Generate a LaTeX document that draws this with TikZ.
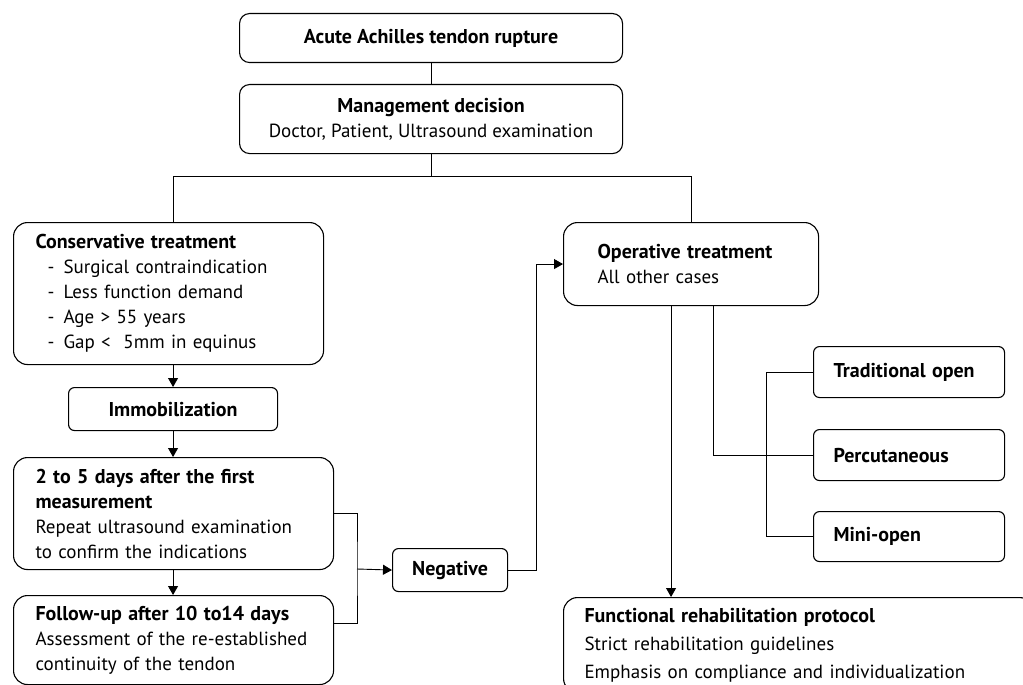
\documentclass[tikz,border=0pt]{standalone}
\usepackage{fontspec}
\setmainfont{PT Sans}
\usetikzlibrary{arrows.meta}
\newcommand{\dashitem}[1]{\makebox[28pt][l]{\hspace{12pt}-}#1}
\newcommand{\hd}[1]{{\fontsize{20}{25}\selectfont\bfseries #1}}
\begin{document}
\begin{tikzpicture}[x=1pt,y=-1pt]
        \tikzstyle{every node}+=[inner sep=0pt, font=\fontsize{19}{25}\selectfont]
        \tikzstyle{box}=[draw=black, line width=1.1pt, rounded corners=10pt, anchor=north west]
        \tikzstyle{sbox}=[box, rounded corners=6pt]
        \tikzstyle{wire}=[black, line width=0.9pt]
        \tikzstyle{arr}=[wire, -{Triangle[length=9pt,width=10pt]}]
        \useasboundingbox (0,0) rectangle (1023,685);
        \node [box, minimum width=383pt, minimum height=49pt] (rupture) at (239,13) {\hd{Acute Achilles tendon rupture}};
        \node [box, minimum width=383pt, minimum height=69pt, align=center] (decision) at (239,84) {\hd{Management decision}\\Doctor, Patient, Ultrasound examination};
        \node [box, rounded corners=14pt, minimum width=310pt, minimum height=142pt, text width=266pt, align=left] (conserv) at (13,222) {\hd{Conservative treatment}\\\dashitem{Surgical contraindication}\\\dashitem{Less function demand}\\\dashitem{Age > 55 years}\\\dashitem{Gap <\ \ 5mm in equinus}};
        \node [sbox, minimum width=209pt, minimum height=43pt] (immob) at (68,387) {\hd{Immobilization}};
        \node [box, rounded corners=14pt, minimum width=320pt, minimum height=112pt, text width=276pt, align=left] (days) at (13,457) {\hd{2 to 5 days after the first}\\\hd{measurement}\\Repeat ultrasound examination\\to confirm the indications};
        \node [box, rounded corners=14pt, minimum width=320pt, minimum height=89pt, text width=276pt, align=left] (follow) at (13,595) {\hd{Follow-up after 10 to14 days}\\Assessment of the re-established\\continuity of the tendon};
        \node [sbox, minimum width=115pt, minimum height=43pt] (neg) at (392,548) {\hd{Negative}};
        \node [box, rounded corners=14pt, minimum width=255pt, minimum height=83pt, text width=187pt, align=left] (oper) at (563,222) {\hd{Operative treatment}\\All other cases};
        \node [sbox, minimum width=191pt, minimum height=51pt, text width=151pt, align=left] (trad) at (813,346) {\hd{Traditional open}};
        \node [sbox, minimum width=191pt, minimum height=51pt, text width=151pt, align=left] (perc) at (813,429) {\hd{Percutaneous}};
        \node [sbox, minimum width=191pt, minimum height=50pt, text width=151pt, align=left] (mini) at (813,511) {\hd{Mini-open}};
        \node [box, rounded corners=14pt, minimum width=470pt, minimum height=95pt, text width=428pt, align=left] (func) at (563,597) {\hd{Functional rehabilitation protocol}\\[3pt]Strict rehabilitation guidelines\\[3pt]Emphasis on compliance and individualization};
        \draw [wire] (rupture) -- (decision);
        \draw [wire] (decision.south) -- ++(0,22) coordinate (split);
        \draw [wire] (immob.north |- conserv.north) |- (split) -| (oper.north);
        \draw [arr] (immob.north |- conserv.south) -- (immob.north);
        \draw [arr] (immob.south) -- (immob.south |- days.north);
        \draw [arr] (immob.south |- days.south) -- (immob.south |- follow.north);
        \coordinate (join) at (357,569);
        \draw [wire] (days.east) -| (join) |- ([yshift=17pt]follow.east);
        \draw [arr] (join) -- (neg.west);
        \draw [arr] (neg.east) -- ++(28,0) |- (oper.west);
        \draw [arr] ([xshift=-20pt]oper.south) -- ([xshift=-20pt]oper.south |- func.north);
        \draw [wire] ([xshift=22pt]oper.south) |- (perc.west);
        \draw [wire] (trad.west) -- ++(-47,0) |- (mini.west);
\end{tikzpicture}
\end{document}
